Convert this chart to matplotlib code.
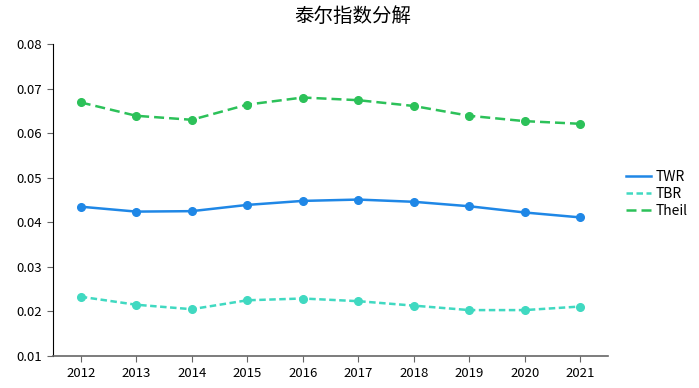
import matplotlib.pyplot as plt

plt.rcParams['font.family'] = ['Noto Sans CJK SC', 'DejaVu Sans']

years = ['2012', '2013', '2014', '2015', '2016', '2017', '2018', '2019', '2020', '2021']
twr = [0.0435, 0.0424, 0.0425, 0.0439, 0.0448, 0.0451, 0.0446, 0.0436, 0.0422, 0.0411]
tbr = [0.0233, 0.0215, 0.0205, 0.0225, 0.0229, 0.0223, 0.0213, 0.0203, 0.0203, 0.0211]
theil = [0.0669, 0.0639, 0.0630, 0.0664, 0.0680, 0.0674, 0.0661, 0.0639, 0.0627, 0.0621]

fig = plt.figure(figsize=(6.99, 3.88), dpi=100)
ax = fig.add_axes([0.0758, 0.0825, 0.794, 0.804])

x = range(len(years))
ax.plot(x, twr, color='#1f87e6', lw=1.8, marker='o', ms=5.5, label='TWR')
ax.plot(x, tbr, color='#40d9c1', lw=1.8, ls=(0, (2.6, 1.4)), marker='o', ms=5.5, label='TBR')
ax.plot(x, theil, color='#2cc159', lw=1.8, ls=(0, (4, 2)), marker='o', ms=5.5, label='Theil')

ax.set_xlim(-0.5, len(years) - 0.5)
ax.set_ylim(0.01, 0.08)
ax.set_xticks(list(x))
ax.set_xticklabels(years)
ax.set_yticks([0.01, 0.02, 0.03, 0.04, 0.05, 0.06, 0.07, 0.08])
ax.set_yticklabels(['0.01', '0.02', '0.03', '0.04', '0.05', '0.06', '0.07', '0.08'])
ax.tick_params(labelsize=9.5, length=4, color='#666666', pad=4)

ax.spines['top'].set_visible(False)
ax.spines['right'].set_visible(False)
ax.spines['left'].set_color('#000000')
ax.spines['bottom'].set_color('#666666')
ax.spines['bottom'].set_linewidth(1.2)

fig.suptitle('泰尔指数分解', fontsize=14, x=0.505, y=0.985)

leg = fig.legend(loc='center left', bbox_to_anchor=(0.878, 0.50), frameon=False,
                 fontsize=10, handlelength=1.8, handletextpad=0.3, labelspacing=0.2)
for h in leg.get_lines():
    h.set_marker('')

fig.savefig('out.png', dpi=100)
